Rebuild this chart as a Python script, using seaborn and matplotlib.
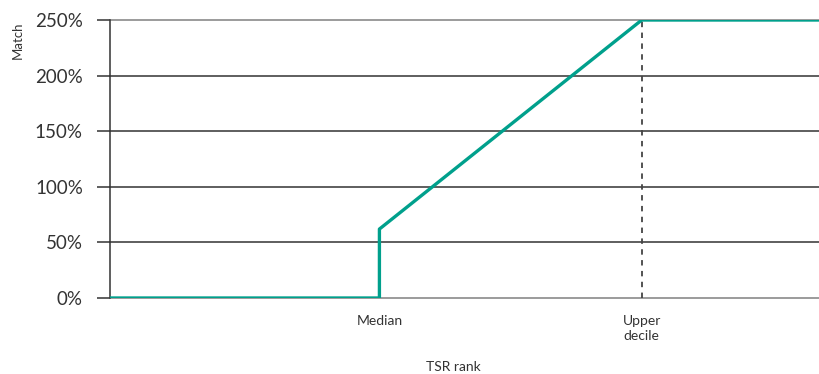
import matplotlib
matplotlib.use("Agg")
import matplotlib.pyplot as plt
import seaborn as sns
import pandas as pd

# Data
rank_pos = [0, 38, 38, 75, 100]
match_pct = [0, 0, 62, 250, 250]
x_tick_pos = [38, 75]
x_tick_labels = ["Median", "Upper\ndecile"]
y_ticks = [0, 50, 100, 150, 200, 250]
y_tick_labels = ["0%", "50%", "100%", "150%", "200%", "250%"]
decile_x = 75
decile_top = 250

sns.set_theme(style="white")
plt.rcParams["font.family"] = ["Lato", "DejaVu Sans"]

df = pd.DataFrame({"rank": rank_pos, "match": match_pct})

fig = plt.figure(figsize=(8.19, 3.74), dpi=100)
ax = fig.add_axes([0.1343, 0.2032, 0.8657, 0.7433])

dark = "#333333"
gray = "#808080"

for y in y_ticks:
    c = gray if y in (0, 250) else dark
    ax.axhline(y, color=c, lw=1.1, zorder=1, clip_on=False)

ax.plot([decile_x, decile_x], [0, decile_top], color="#444444", lw=1.3,
        ls=(0, (3, 3)), zorder=2)

sns.lineplot(data=df, x="rank", y="match", ax=ax, color="#00A08C", lw=2.4,
             sort=False, estimator=None, zorder=3)

ax.set_xlim(0, 100)
ax.set_ylim(0, 250)
ax.set_yticks(y_ticks)
ax.set_yticklabels(y_tick_labels, fontsize=13.5, color="#333333")
ax.set_xticks(x_tick_pos)
ax.set_xticklabels(x_tick_labels, fontsize=10, color="#333333", linespacing=1.3)

ax.tick_params(axis="y", length=9.5, width=1.1, color=dark, pad=10, left=True)
ax.tick_params(axis="x", length=0, pad=12)

for s in ["top", "right", "bottom"]:
    ax.spines[s].set_visible(False)
ax.spines["left"].set_color(dark)
ax.spines["left"].set_linewidth(1.1)

ax.set_xlabel("TSR rank", fontsize=10, color="#333333")
ax.xaxis.set_label_coords(0.484, -0.248)
ax.xaxis.label.set_va("center")
ax.set_ylabel("Match", fontsize=9.5, color="#333333")
ax.yaxis.set_label_coords(-0.121, 0.928)

fig.savefig("out.png", dpi=100)
